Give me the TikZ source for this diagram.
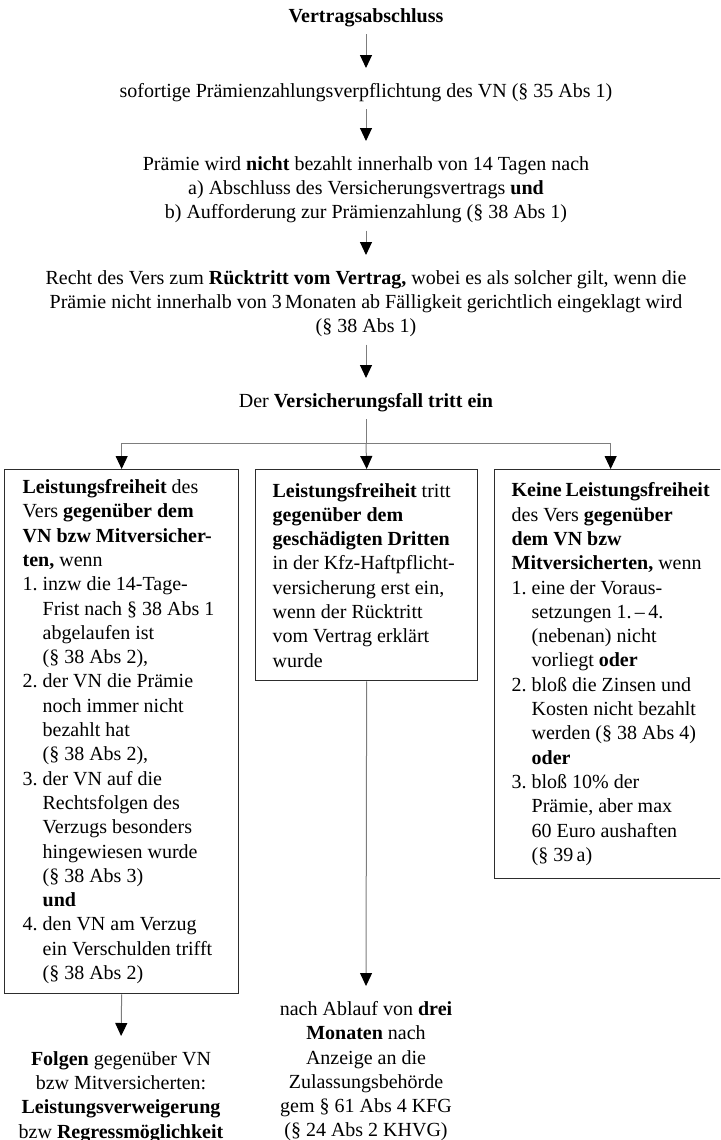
\documentclass[tikz,border=0pt]{standalone}
\usepackage{fontspec}
\setmainfont{Liberation Serif}
\usepackage{tikz}
\usetikzlibrary{arrows.meta}
\definecolor{linie}{RGB}{125,125,125}
\definecolor{rand}{RGB}{45,45,45}
\newcommand{\grundschrift}{\fontsize{10}{12.15}\selectfont}
\newcommand{\punkt}[1]{\par\hangindent=10pt\hangafter=1\noindent\makebox[10pt][l]{#1}}

\begin{document}
\begin{tikzpicture}[x=0.5pt, y=-0.5pt,
	txt/.style={font=\grundschrift, inner sep=3.5pt, align=center, anchor=north},
	kasten/.style={draw=rand, line width=0.65pt, font=\grundschrift, align=flush left, inner ysep=0pt, anchor=north west},
	verbinder/.style={draw=linie, line width=0.5pt},
	pfeilstil/.style={verbinder, -{Triangle[width=6pt, length=6.5pt, color=black]}},
	zu/.style={pfeilstil, shorten >=4pt}]

	\useasboundingbox (0,0) rectangle (720,1140);
	\clip (0,0) rectangle (720,1140);

	% Ablauf oben
	\node[txt] (abschluss) at (366,1) {\textbf{Vertragsabschluss}};
	\node[txt] (pflicht) at (366,76) {sofortige Prämienzahlungsverpflichtung des VN (§~35 Abs 1)};
	\node[txt] (verzug) at (366,149) {Prämie wird \textbf{nicht} bezahlt innerhalb von 14 Tagen nach\\ a) Abschluss des Versicherungsvertrags \textbf{und}\\ b) Aufforderung zur Prämienzahlung (§~38 Abs 1)};
	\node[txt] (ruecktritt) at (366,263) {Recht des Vers zum \textbf{Rücktritt vom Vertrag,} wobei es als solcher gilt, wenn die\\ Prämie nicht innerhalb von 3\,Monaten ab Fälligkeit gerichtlich eingeklagt wird\\ (§~38 Abs 1)};
	\node[txt] (fall) at (366,386) {Der \textbf{Versicherungsfall tritt ein}};

	\draw[zu] (abschluss) -- (pflicht);
	\draw[zu] (pflicht) -- (verzug);
	\draw[zu] (verzug) -- (ruecktritt);
	\draw[zu] (ruecktritt) -- (fall);

	% die drei Kaesten
	\node[kasten, text width=99pt, inner xsep=9pt, minimum height=262pt] (links) at (4,469) {%
		\noindent\textbf{Leistungsfreiheit} des\newline Vers \textbf{gegenüber dem}\newline \textbf{VN bzw Mitversicher-}\newline \textbf{ten,} wenn
		\punkt{1.}inzw die 14-Tage-\newline Frist nach §~38 Abs~1\newline abgelaufen ist\newline (§~38 Abs 2),
		\punkt{2.}der VN die Prämie\newline noch immer nicht\newline bezahlt hat\newline (§~38 Abs 2),
		\punkt{3.}der VN auf die\newline Rechtsfolgen des\newline Verzugs besonders\newline hingewiesen wurde\newline (§~38 Abs 3)\newline \textbf{und}
		\punkt{4.}den VN am Verzug\newline ein Verschulden trifft\newline (§~38 Abs 2)\par};
	\node[kasten, text width=94pt, inner xsep=8.5pt, minimum height=105.5pt] (mitte) at (255,469) {%
		\noindent\textbf{Leistungsfreiheit} tritt\newline \textbf{gegenüber dem}\newline \textbf{geschädigten~Dritten}\newline in der Kfz-Haftpflicht-\newline versicherung erst ein,\newline wenn der Rücktritt\newline vom Vertrag erklärt\newline wurde\par};
	\node[kasten, text width=99pt, inner xsep=8.5pt, minimum height=204.5pt] (rechts) at (494,469) {%
		\noindent\textbf{Keine~Leistungsfreiheit}\newline des Vers \textbf{gegenüber}\newline \textbf{dem VN bzw}\newline \textbf{Mitversicherten,}~wenn
		\punkt{1.}eine der Voraus-\newline setzungen 1.\,–\,4.\newline (nebenan) nicht\newline vorliegt \textbf{oder}
		\punkt{2.}bloß die Zinsen und\newline Kosten nicht bezahlt\newline werden (§~38 Abs~4)\newline \textbf{oder}
		\punkt{3.}bloß 10\% der\newline Prämie, aber max\newline 60 Euro aushaften\newline (§~39\,a)\par};

	\coordinate (gabel) at (366,443);
	\draw[verbinder] (fall) -- (gabel);
	\draw[pfeilstil] (gabel) -| (links.north);
	\draw[pfeilstil] (gabel) -- (mitte.north);
	\draw[pfeilstil] (gabel) -| (rechts.north);

	% Folgen unten
	\node[txt] (ablauf) at (366,994) {nach Ablauf von \textbf{drei}\\ \textbf{Monaten} nach\\ Anzeige an die\\ Zulassungsbehörde\\ gem §~61 Abs 4 KFG\\ (§~24 Abs 2 KHVG)};
	\node[txt] (folgen) at (121,1044) {\textbf{Folgen} gegenüber VN\\ bzw Mitversicherten:\\ \textbf{Leistungsverweigerung}\\ bzw \textbf{Regressmöglichkeit}};

	\draw[zu] (mitte.south) -- (ablauf.north);
	\draw[zu] (links.south) -- (folgen.north);

\end{tikzpicture}
\end{document}
